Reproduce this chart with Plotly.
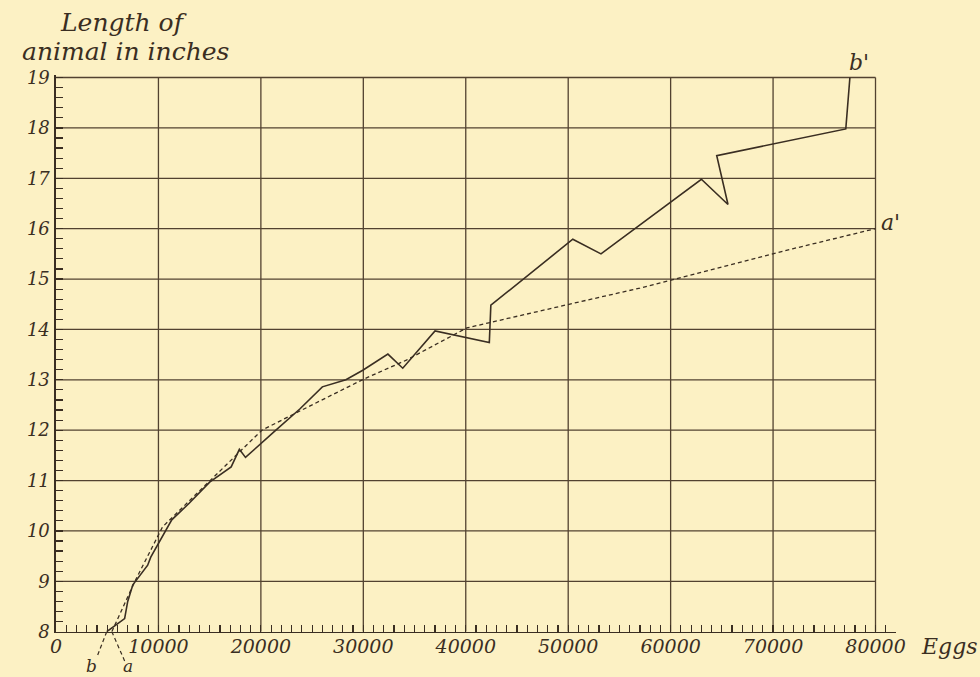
import plotly.graph_objects as go

# ---------------- data ----------------
# solid curve b -> b'
eggs_b = [4950, 6700, 7000, 7500, 8950, 9250, 11300, 13000, 15000, 17100, 17900,
          18500, 21300, 23800, 26000, 28300, 29950, 32400, 33850, 37000, 42300,
          42450, 50450, 53200, 63000, 65600, 64500, 77100, 77500]
len_b = [8.0, 8.26, 8.6, 8.93, 9.32, 9.48, 10.22, 10.55, 10.97, 11.27, 11.62,
         11.46, 11.97, 12.42, 12.86, 13.0, 13.19, 13.51, 13.23, 13.97, 13.74,
         14.48, 15.79, 15.5, 16.98, 16.48, 17.45, 17.98, 19.0]

# dashed curve a -> a'
eggs_a = [5450, 7700, 10400, 15000, 20100, 23800, 30000, 34200, 40100, 53100,
          57000, 71900, 80000]
len_a = [8.0, 9.0, 10.08, 11.0, 12.0, 12.38, 13.01, 13.39, 14.03, 14.64,
         14.82, 15.6, 16.0]

# short dashed continuations below the axis
ext_b_eggs = [4950, 4000]
ext_b_len = [8.0, 7.5]
ext_a_eggs = [5450, 6700]
ext_a_len = [8.0, 7.42]

x_ticks = [0, 10000, 20000, 30000, 40000, 50000, 60000, 70000, 80000]
x_labels = [str(v) for v in x_ticks]
y_ticks = [8, 9, 10, 11, 12, 13, 14, 15, 16, 17, 18, 19]
y_labels = [str(v) for v in y_ticks]

# ---------------- geometry ----------------
W, H = 980, 677
L_PX = 56.0
PX_PER_EGG = 102.5 / 10000.0
X_MAX = 82000
R_PX = L_PX + X_MAX * PX_PER_EGG
PX_PER_IN = 50.45
Y_AXIS_PX = 632.0
Y_TOP = 19.05
Y_LOW = 7.2
T_PX = Y_AXIS_PX - (Y_TOP - 8) * PX_PER_IN
B_PX = Y_AXIS_PX + (8 - Y_LOW) * PX_PER_IN
plotW = R_PX - L_PX
plotH = B_PX - T_PX
split = (B_PX - Y_AXIS_PX) / plotH


def px_x(px):
    return (px - L_PX) / plotW


def px_y(py):
    return (B_PX - py) / plotH


INK = "#3a2e22"
GRID = "#524230"
BG = "#fcf1c4"
SERIF = "DejaVu Serif"


def tfont(size):
    return dict(family=SERIF, size=size, color=INK, style="italic")


fig = go.Figure()

fig.add_trace(go.Scatter(x=eggs_a, y=len_a, mode="lines",
                         line=dict(color=INK, width=1.3, dash="4px,3px"),
                         xaxis="x", yaxis="y", hoverinfo="skip"))
fig.add_trace(go.Scatter(x=eggs_b, y=len_b, mode="lines",
                         line=dict(color=INK, width=1.6),
                         xaxis="x", yaxis="y", hoverinfo="skip"))
fig.add_trace(go.Scatter(x=ext_b_eggs, y=ext_b_len, mode="lines",
                         line=dict(color=INK, width=1.2, dash="4px,3px"),
                         xaxis="x2", yaxis="y2", hoverinfo="skip"))
fig.add_trace(go.Scatter(x=ext_a_eggs, y=ext_a_len, mode="lines",
                         line=dict(color=INK, width=1.2, dash="4px,3px"),
                         xaxis="x2", yaxis="y2", hoverinfo="skip"))

shapes = []
for v in x_ticks[1:]:
    shapes.append(dict(type="line", xref="x", yref="y", x0=v, x1=v,
                       y0=y_ticks[0], y1=y_ticks[-1], layer="below",
                       line=dict(color=GRID, width=1.3)))
for h in y_ticks[1:]:
    shapes.append(dict(type="line", xref="x", yref="y", x0=x_ticks[0], x1=x_ticks[-1],
                       y0=h, y1=h, layer="below",
                       line=dict(color=GRID, width=1.3)))

annotations = [
    dict(text="Length of", xref="paper", yref="paper",
         x=px_x(124), y=px_y(22), xanchor="center", yanchor="middle",
         showarrow=False, font=tfont(25)),
    dict(text="animal in inches", xref="paper", yref="paper",
         x=px_x(126), y=px_y(51), xanchor="center", yanchor="middle",
         showarrow=False, font=tfont(25)),
    dict(text="Eggs", xref="paper", yref="paper",
         x=px_x(950), y=px_y(647), xanchor="center", yanchor="middle",
         showarrow=False, font=tfont(22)),
    dict(text="b'", xref="x", yref="y", x=eggs_b[-1], y=len_b[-1],
         xanchor="center", yanchor="bottom", xshift=9, yshift=1, showarrow=False,
         font=tfont(22)),
    dict(text="a'", xref="x", yref="y", x=eggs_a[-1], y=len_a[-1],
         xanchor="left", yanchor="middle", xshift=3, yshift=6, showarrow=False,
         font=tfont(22)),
    dict(text="b", xref="x2", yref="y2", x=ext_b_eggs[-1], y=ext_b_len[-1],
         xanchor="center", yanchor="top", xshift=-5, yshift=3, showarrow=False,
         font=tfont(17)),
    dict(text="a", xref="x2", yref="y2", x=ext_a_eggs[-1], y=ext_a_len[-1],
         xanchor="center", yanchor="top", xshift=3, yshift=7, showarrow=False,
         font=tfont(17)),
]

fig.update_layout(
    width=W, height=H,
    margin=dict(l=L_PX, r=W - R_PX, t=T_PX, b=H - B_PX, pad=0, autoexpand=False),
    paper_bgcolor=BG, plot_bgcolor=BG,
    showlegend=False,
    shapes=shapes,
    annotations=annotations,
    xaxis=dict(
        range=[0, X_MAX], domain=[0, 1], anchor="y",
        showgrid=False, zeroline=False,
        showline=True, linecolor=INK, linewidth=1.6,
        tickmode="array", tickvals=x_ticks, ticktext=x_labels,
        ticks="inside", ticklen=7, tickwidth=1.2, tickcolor=INK,
        minor=dict(dtick=1000, tick0=0, ticks="inside", ticklen=7,
                   tickwidth=1.2, tickcolor=INK, showgrid=False),
        tickfont=tfont(19),
        ticklabelstandoff=-3,
        automargin=False, fixedrange=True,
    ),
    yaxis=dict(
        range=[8, Y_TOP], domain=[split, 1], anchor="x",
        showgrid=False, zeroline=False,
        showline=True, linecolor=INK, linewidth=1.6,
        tickmode="array", tickvals=y_ticks, ticktext=y_labels,
        ticks="inside", ticklen=7, tickwidth=1.2, tickcolor=INK,
        minor=dict(dtick=0.2, tick0=8, ticks="inside", ticklen=7,
                   tickwidth=1.2, tickcolor=INK, showgrid=False),
        tickfont=tfont(18),
        ticklabelstandoff=1,
        automargin=False, fixedrange=True,
    ),
    xaxis2=dict(
        range=[0, X_MAX], domain=[0, 1], anchor="y2", matches="x",
        visible=False, fixedrange=True,
    ),
    yaxis2=dict(
        range=[Y_LOW, 8], domain=[0, split], anchor="x2",
        visible=False, fixedrange=True,
    ),
)

fig.write_html("out.html",
               config={"displayModeBar": False, "staticPlot": True},
               post_script="document.body.style.margin='0';"
                           "document.body.style.background='" + BG + "';")
